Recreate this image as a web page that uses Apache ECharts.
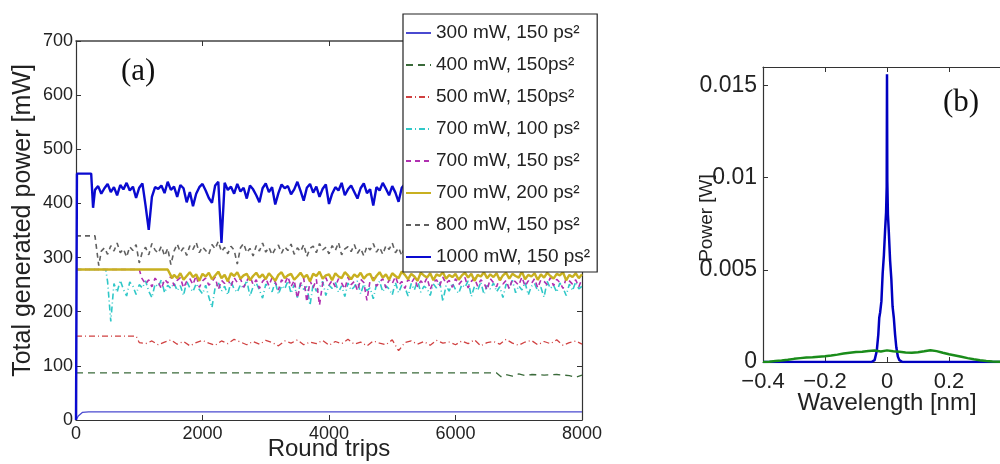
<!DOCTYPE html>
<html>
<head>
<meta charset="utf-8">
<script src="https://cdn.jsdelivr.net/npm/echarts@6/dist/echarts.min.js"></script>
<style>
html,body{margin:0;padding:0;background:#fff;}
#chart{width:1000px;height:464px;}
</style>
</head>
<body>
<div id="chart"></div>
<script>
// ---------------- DATA ----------------
const seriesNames = [
  '300 mW, 150 ps\u00B2', '400 mW, 150ps\u00B2', '500 mW, 150ps\u00B2', '700 mW, 100 ps\u00B2',
  '700 mW, 150 ps\u00B2', '700 mW, 200 ps\u00B2', '800 mW, 150 ps\u00B2', '1000 mW, 150 ps\u00B2'
];

// 300 mW, 150 ps^2 : [round trip, mW]
const p300 = [[0,0],[40,8],[100,14],[200,15],[8000,15]];
// 400 mW, 150 ps^2
const p400 = [[0,87],[6650,87],[6720,80],[6800,84],[6900,81],[7000,85],[7100,82],[7200,84],[7400,83],[7600,84],[7800,82],[7900,79],[8000,83]];
// 500 mW: head then values every 100 round trips from 1100
const p500Head = [[0,155],[950,155],[1000,143]];
const p500Start = 1100, p500Step = 100;
const p500Vals = [
  141,146,139,144,148,140,145,137,143,147,
  142,138,146,141,149,144,139,145,140,147,
  143,137,146,142,148,139,144,141,147,138,
  145,141,149,140,144,137,146,142,139,148,
  128,143,146,140,145,138,147,142,144,139,
  146,141,148,137,143,145,140,149,142,138,
  144,147,139,145,141,148,138,143,146,140
];
// 700 mW, 100 ps^2: head then every 50 from 550
const p700aHead = [[0,278],[470,278],[500,255]];
const p700aStart = 550, p700aStep = 50;
const p700aVals = [
  182,252,236,258,241,229,255,247,232,250,
  244,257,238,226,251,246,259,235,249,243,
  253,239,248,230,256,244,237,252,241,233,
  249,227,208,245,254,238,247,231,256,242,
  236,250,243,258,229,246,253,240,225,251,
  245,237,255,232,248,242,257,234,250,226,
  254,241,247,212,252,238,245,256,230,249,
  243,255,236,248,228,253,240,246,257,233,
  251,239,244,224,250,256,237,248,242,231,
  254,235,249,245,229,252,240,258,236,247,
  243,230,251,244,256,219,248,238,253,241,
  234,250,245,257,228,247,239,255,232,249,
  242,253,237,246,226,251,244,258,235,248,
  240,254,231,247,252,238,245,227,256,243,
  249,236,253,244,230,251,239,255,242,247
];
// 700 mW, 150 ps^2: head then every 50 from 1050
const p700bHead = [[0,278],[1000,278],[1040,262]];
const p700bStart = 1050, p700bStep = 50;
const p700bVals = [
  264,251,259,246,262,255,242,260,253,266,
  248,258,263,244,256,261,250,267,245,257,
  262,249,255,264,241,258,252,260,247,263,
  254,261,245,257,266,250,259,243,256,262,
  248,263,255,240,259,252,265,246,258,225,
  251,262,218,257,244,260,212,253,263,249,
  258,246,261,253,242,264,250,256,239,260,
  254,221,258,263,247,255,261,244,259,252,
  265,249,256,243,260,253,262,246,257,251,
  263,241,255,259,248,264,252,258,245,261,
  250,257,263,244,256,262,247,259,253,240,
  261,254,246,263,251,258,242,260,255,249,
  264,247,257,252,261,244,259,256,250,263,
  248,260,254,243,262,257,251,259,246,261
];
// 700 mW, 200 ps^2: head then every 50 from 1550
const p700cHead = [[0,278],[1450,278],[1520,262]];
const p700cStart = 1550, p700cStep = 50;
const p700cVals = [
  268,262,271,259,266,273,264,269,257,270,
  265,272,260,267,274,262,268,256,271,266,
  273,261,267,270,258,266,272,263,269,260,
  271,264,257,268,273,262,267,270,259,265,
  272,263,268,256,270,266,274,261,267,269,
  258,271,265,262,273,267,260,269,264,272,
  261,268,270,257,266,273,263,269,259,271,
  266,262,274,268,260,270,265,257,272,267,
  263,271,258,269,266,273,261,268,264,270,
  259,267,272,263,270,257,268,265,273,262,
  269,264,271,258,267,272,261,270,266,263,
  274,260,268,265,271,259,269,263,272,266,
  261,270,267,273,258,268,264,271,262,269
];
// 800 mW, 150 ps^2: head then every 50 from 450
const p800Head = [[0,340],[300,340],[360,285],[400,312]];
const p800Start = 450, p800Step = 50;
const p800Vals = [
  318,306,322,312,327,309,316,301,320,313,
  324,290,311,319,305,326,314,308,321,303,
  317,287,312,325,310,318,304,322,315,328,
  309,320,313,306,324,316,330,311,319,307,
  321,314,288,318,326,309,317,303,322,312,
  327,310,319,305,316,323,308,320,313,325,
  306,318,311,324,302,317,321,309,326,314,
  319,307,322,313,328,305,316,320,311,324,
  308,317,303,321,314,326,310,319,306,322,
  315,327,309,318,304,320,312,325,307,316,
  323,311,319,302,317,326,308,314,321,310,
  318,305,324,313,320,309,327,315,306,319,
  312,322,308,317,325,303,316,321,310,318,
  324,307,319,314,301,320,326,311,317,309,
  322,313,318,305,327,316,310,323,308,319,
  314,320
];
// 1000 mW, 150 ps^2: head then every 50 from 350
const p1000Head = [[0,0],[15,455],[240,455],[270,392],[300,425]];
const p1000Start = 350, p1000Step = 50;
const p1000Vals = [
  432,418,428,436,421,430,415,434,426,438,
  424,431,410,429,437,396,351,412,430,427,
  433,419,440,425,431,412,434,428,402,421,
  395,418,430,436,424,410,401,433,440,327,
  438,425,431,418,436,422,429,409,433,426,
  415,402,428,437,421,430,398,419,435,428,
  432,417,426,440,423,405,429,436,420,431,
  412,427,435,399,418,430,424,438,415,426,
  433,421,409,428,437,419,426,396,430,424,
  438,427,415,432,420,403,429,436,418,441,
  425,430,411,428,435,420,392,416,433,427,
  419,436,424,408,431,427,440,421,414,429,
  435,418,426,401,430,438,422,428,411,433,
  426,437,415,429,420,404,432,439,423,418,
  430,410,427,436,421,398,425,434,419,431,
  424,437,416,428
];

// Panel (b): spectra, wavelength [nm] vs power [W]
const specBlueX = [-0.4,-0.05,-0.04,-0.033,-0.028,-0.025,-0.022,-0.018,-0.014,-0.01,-0.006,-0.003,-0.001,0,0.001,0.003,0.006,0.01,0.014,0.018,0.022,0.026,0.03,0.035,0.04,0.05,0.4];
const specBlueY = [0,0,0.0001,0.0006,0.0015,0.0024,0.0027,0.0033,0.0048,0.0058,0.0072,0.0081,0.0095,0.0156,0.0098,0.0080,0.0070,0.0055,0.0045,0.0030,0.0024,0.0015,0.0008,0.0003,0.0001,0,0];
const specGreenX = [-0.40,-0.38,-0.36,-0.34,-0.32,-0.30,-0.28,-0.26,-0.24,-0.22,-0.20,-0.18,-0.16,-0.14,-0.12,-0.10,-0.08,-0.06,-0.04,-0.02,0.00,0.02,0.04,0.06,0.08,0.10,0.12,0.14,0.16,0.18,0.20,0.22,0.24,0.26,0.28,0.30,0.32,0.34,0.36,0.38,0.40];
const specGreenY = [0.00000,0.00002,0.00005,0.00008,0.00012,0.00017,0.00021,0.00025,0.00026,0.00029,0.00031,0.00035,0.00040,0.00046,0.00050,0.00054,0.00056,0.00060,0.00062,0.00057,0.00063,0.00058,0.00055,0.00052,0.00050,0.00053,0.00058,0.00064,0.00059,0.00050,0.00042,0.00035,0.00028,0.00021,0.00015,0.00010,0.00006,0.00003,0.00001,0.00000,0.00000];

const yTickLabelsB = {'0.0000':'0','0.0050':'0.005','0.0100':'0.01','0.0150':'0.015'};
const xTickLabelsB = {'-0.4':'\u22120.4','-0.2':'\u22120.2','0':'0','0.2':'0.2'};

// ---------------- BUILD ----------------
function seq(head, start, step, vals){ return head.concat(vals.map((v,i)=>[start+i*step, v])); }
function zip(xs, ys){ return xs.map((x,i)=>[x, ys[i]]); }

const SANS = 'Liberation Sans, Arial, Helvetica, sans-serif';
const SERIF = 'Liberation Serif, Times New Roman, serif';
const axisCol = '#333';

const colors = ['#4a4ad0','#3a6a3a','#d04040','#30c8c8','#b030b0','#c8b020','#606060','#0a0ad0'];
const lineTypes = ['solid',[7,5],[6,3,1,3],[6,3,1,3],[5,4],'solid',[5,4],'solid'];
const widths = [1.3,1.3,1.3,1.6,1.6,2.4,1.6,2.4];
const datasets = [
  p300, p400,
  seq(p500Head, p500Start, p500Step, p500Vals),
  seq(p700aHead, p700aStart, p700aStep, p700aVals),
  seq(p700bHead, p700bStart, p700bStep, p700bVals),
  seq(p700cHead, p700cStart, p700cStep, p700cVals),
  seq(p800Head, p800Start, p800Step, p800Vals),
  seq(p1000Head, p1000Start, p1000Step, p1000Vals)
];

const leftSeries = datasets.map((d,i)=>({
  name: seriesNames[i], type:'line', xAxisIndex:0, yAxisIndex:0,
  data: d, symbol:'none', showSymbol:false, animation:false,
  lineStyle:{color:colors[i], width:widths[i], type: lineTypes[i]},
  itemStyle:{color:colors[i]}, z: 2
}));

const tickStyle = {show:true, inside:true, length:5, lineStyle:{color:axisCol, width:1}};
const lineStyleAxis = {show:true, onZero:false, lineStyle:{color:'#333', width:1.2}};

const option = {
  animation:false,
  backgroundColor:'#fff',
  title:[
    {text:'(a)', left:121, top:56, padding:0, textStyle:{fontFamily:SERIF, fontSize:31, fontWeight:'normal', color:'#111'}},
    {text:'(b)', left:943, top:87, padding:0, textStyle:{fontFamily:SERIF, fontSize:31, fontWeight:'normal', color:'#111'}}
  ],
  legend:{
    data: seriesNames, orient:'vertical', left:403, top:14,
    padding:[9,7,5,2], itemGap:12, itemWidth:25, itemHeight:2,
    itemStyle:{opacity:0},
    backgroundColor:'#fff', borderColor:'#222', borderWidth:1.2,
    textStyle:{fontFamily:SANS, fontSize:19, color:'#222', lineHeight:20},
    z:10
  },
  grid:[
    {left:76, top:41, width:506, height:379, containLabel:false, outerBoundsMode:'none'},
    {left:763, top:67, width:248, height:295, containLabel:false, outerBoundsMode:'none'}
  ],
  xAxis:[
    {type:'value', gridIndex:0, position:'bottom', min:0, max:8000, interval:2000,
     axisLine:lineStyleAxis, axisTick:tickStyle, splitLine:{show:false},
     axisLabel:{fontFamily:SANS, fontSize:18, color:'#222', margin:5, formatter:v=>String(v)},
     name:'Round trips', nameLocation:'middle', nameGap:17, nameMoveOverlap:false,
     nameTextStyle:{fontFamily:SANS, fontSize:24, color:'#222'}},
    {type:'value', gridIndex:0, position:'top', min:0, max:8000, interval:2000,
     axisLine:{show:true, onZero:false, lineStyle:{color:'#444', width:1.6}}, axisTick:tickStyle, splitLine:{show:false},
     axisLabel:{show:false}},
    {type:'value', gridIndex:1, position:'bottom', min:-0.4, max:0.4, interval:0.2,
     axisLine:lineStyleAxis, axisTick:tickStyle, splitLine:{show:false},
     axisLabel:{fontFamily:SANS, fontSize:22, color:'#222', margin:9,
       formatter:v=>{const k=String(Math.round(v*10)/10); return xTickLabelsB[k]!==undefined?xTickLabelsB[k]:'';}},
     name:'Wavelength [nm]', nameLocation:'middle', nameGap:29, nameMoveOverlap:false,
     nameTextStyle:{fontFamily:SANS, fontSize:24, color:'#222'}},
    {type:'value', gridIndex:1, position:'top', min:-0.4, max:0.4, interval:0.2,
     axisLine:{show:true, onZero:false, lineStyle:{color:'#333', width:1.2}}, axisTick:tickStyle, splitLine:{show:false},
     axisLabel:{show:false}}
  ],
  yAxis:[
    {type:'value', gridIndex:0, position:'left', min:0, max:700, interval:100,
     axisLine:lineStyleAxis, axisTick:tickStyle, splitLine:{show:false},
     axisLabel:{fontFamily:SANS, fontSize:18, color:'#222', margin:3},
     name:'Total generated power [mW]', nameLocation:'middle', nameGap:40, nameRotate:90, nameMoveOverlap:false,
     nameTextStyle:{fontFamily:SANS, fontSize:25, color:'#222', padding:[0,0,0,20]}},
    {type:'value', gridIndex:0, position:'right', min:0, max:700, interval:100,
     axisLine:lineStyleAxis, axisTick:tickStyle, splitLine:{show:false}, axisLabel:{show:false}},
    {type:'value', gridIndex:1, position:'left', min:0, max:0.016, interval:0.005,
     axisLine:lineStyleAxis, axisTick:tickStyle, splitLine:{show:false},
     axisLabel:{fontFamily:SANS, fontSize:23, color:'#222', margin:6,
       formatter:v=>{const k=v.toFixed(4); return yTickLabelsB[k]!==undefined?yTickLabelsB[k]:'';}},
     name:'Power [W]', nameLocation:'middle', nameGap:47, nameRotate:90, nameMoveOverlap:false,
     nameTextStyle:{fontFamily:SANS, fontSize:19, color:'#222', padding:[0,7,0,0]}}
  ],
  series: leftSeries.concat([
    {name:'blue spectrum', type:'line', xAxisIndex:2, yAxisIndex:2, data: zip(specBlueX, specBlueY),
     symbol:'none', lineStyle:{color:'#0000c0', width:2.5}, z:3},
    {name:'green spectrum', type:'line', xAxisIndex:2, yAxisIndex:2, data: zip(specGreenX, specGreenY),
     symbol:'none', lineStyle:{color:'#1a8c1a', width:2.5}, z:4}
  ])
};

const chart = echarts.init(document.getElementById('chart'), null, {renderer:'canvas'});
chart.setOption(option);
</script>
</body>
</html>
